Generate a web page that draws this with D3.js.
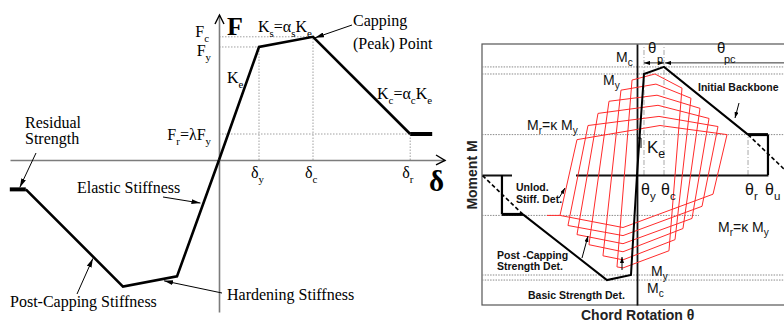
<!DOCTYPE html>
<html>
<head>
<meta charset="utf-8">
<script src="https://cdn.jsdelivr.net/npm/d3@7/dist/d3.min.js"></script>
<style>
  html, body { margin: 0; padding: 0; background: #fff; }
  svg { display: block; }
</style>
</head>
<body>
<svg id="chart" width="784" height="322"></svg>
<script>
// ---------- Left panel: force–deformation backbone ----------
const deltaExtent = [-5.225, 5.65];
const forceExtent = [-1.345, 1.283];

const posBackboneDelta = [0, 1, 2.35, 4.78];
const posBackboneForce = [0, 1, 1.09, 0.23];
const posResidualDelta = [4.78, 5.33];
const negBackboneDelta = [0, -1.05, -2.4, -4.83];
const negBackboneForce = [0, -1.03, -1.12, -0.26];
const negResidualDelta = [-4.83, -5.23];

const deltaMarkSubs = ["y", "c", "r"];

// ---------- Right panel: moment–rotation with cyclic deterioration ----------
const thetaExtent = [-22.14, 21];
const momentExtent = [-1.287, 1.297];

const posSkeletonTheta = [0, 1, 3.86, 15.86];
const posSkeletonMoment = [0, 1.0, 1.07, 0.4];
const posResidualTheta = [15.86, 18.71];
const posTailTheta = [15.86, 21.9];
const posTailMoment = [0.4, 0];
const negSkeletonTheta = [0, -0.86, -4.29, -16.29];
const negSkeletonMoment = [0, -0.99, -1.04, -0.39];
const negResidualTheta = [-16.29, -19.29];
const negTailTheta = [-16.29, -22.14];
const negTailMoment = [-0.39, 0];

const momentLevels = [1.07, 1.0, 0.4, -0.4, -0.99, -1.04];
const thetaMarks = [1, 3.86, 15.86, 18.71];
const thetaMarkSubs = ["y", "c", "r", "u"];

// cycle corners: upper-left, peak, upper-right, lower-right, trough, lower-left
const cycleTheta = [
  [-0.71, 2.57, 6.43, 4.57, -2.0, -2.86],
  [-2.29, 2.71, 7.71, 5.43, -2.0, -4.86],
  [-4.0, 2.86, 9.0, 6.57, -2.0, -6.86],
  [-5.57, 3.0, 10.29, 7.86, -2.0, -8.57],
  [-7.0, 3.14, 11.57, 9.29, -2.0, -9.86],
  [-8.57, 3.29, 12.86, 10.86, -2.0, -11.0]
];
const cycleMoment = [
  [0.94, 1.0, 0.86, -0.75, -0.92, -0.91],
  [0.84, 0.9, 0.76, -0.64, -0.84, -0.8],
  [0.73, 0.79, 0.66, -0.53, -0.76, -0.69],
  [0.61, 0.69, 0.56, -0.43, -0.68, -0.59],
  [0.49, 0.58, 0.48, -0.31, -0.6, -0.5],
  [0.35, 0.49, 0.4, -0.19, -0.52, -0.4]
];
const cycleResidualTheta = [-11.0, -12.86];
const cycleResidualMoment = -0.4;

// ---------- drawing ----------
const svg = d3.select("#chart");
const defs = svg.append("defs");
function arrowMarker(id, len, wid) {
  defs.append("marker").attr("id", id)
    .attr("viewBox", `0 0 ${len} ${wid}`)
    .attr("refX", len).attr("refY", wid / 2)
    .attr("markerWidth", len).attr("markerHeight", wid)
    .attr("markerUnits", "userSpaceOnUse")
    .attr("orient", "auto-start-reverse")
    .append("path").attr("d", `M0,0L${len},${wid / 2}L0,${wid}Z`).attr("fill", "#000");
}
arrowMarker("headL", 9, 5);
arrowMarker("headR", 6, 4);

function rich(g, x, y, parts, o) {
  const t = g.append("text").attr("x", x).attr("y", y)
    .attr("font-family", o.family).attr("font-size", o.size)
    .attr("font-weight", o.weight || "normal")
    .attr("text-anchor", o.anchor || "start")
    .attr("fill", o.fill || "#000");
  let down = 0;
  const subSize = o.size * (o.subScale || 0.68);
  const drop = o.size * (o.drop || 0.3);
  parts.forEach(p => {
    const sub = p[0] === "_";
    const s = t.append("tspan").text(sub ? p.slice(1) : p);
    if (sub) { s.attr("font-size", subSize).attr("dy", drop - down); down = drop; }
    else if (down) { s.attr("dy", -down); down = 0; }
  });
  return t;
}
function arrow(g, x1, y1, x2, y2, head, w) {
  g.append("line").attr("x1", x1).attr("y1", y1).attr("x2", x2).attr("y2", y2)
    .attr("stroke", "#000").attr("stroke-width", w || 1)
    .attr("marker-end", `url(#${head})`);
}

// ===== left =====
const serif = "'Liberation Serif','Times New Roman',Times,serif";
const xL = d3.scaleLinear().domain(deltaExtent).range([10, 445]);
const yL = d3.scaleLinear().domain(forceExtent).range([312, 15]);
const left = svg.append("g");
const lineL = d3.line().x(d => xL(d[0])).y(d => yL(d[1]));

// dotted guides to the yield, capping and residual points
const guidesL = left.append("g").attr("fill", "none").attr("stroke", "#a0a0a0")
  .attr("stroke-width", 1).attr("stroke-dasharray", "1.5,1.5");
for (let k = 1; k < posBackboneDelta.length; k++) {
  const d = posBackboneDelta[k], f = posBackboneForce[k];
  guidesL.append("path").attr("d", lineL([[0, f], [d, f]]));
  guidesL.append("path").attr("d", lineL([[d, 0], [d, f]]));
}

const axL = left.append("g").attr("transform", `translate(0,${yL(0)})`)
  .call(d3.axisBottom(xL).tickValues([]).tickSizeOuter(0));
const ayL = left.append("g").attr("transform", `translate(${xL(0)},0)`)
  .call(d3.axisLeft(yL).tickValues([]).tickSizeOuter(0));
[axL, ayL].forEach(a => a.select(".domain").attr("stroke", "#7c7c7c").attr("stroke-width", 1.6));

// axis arrowheads
const topY = yL(forceExtent[1]), endX = xL(deltaExtent[1]);
left.append("path").attr("d", `M${xL(0) - 4},${topY + 9}L${xL(0) + 0.5},${topY}L${xL(0) + 5},${topY + 9}`)
  .attr("fill", "none").attr("stroke", "#000").attr("stroke-width", 1.4);
left.append("path").attr("d", `M${endX - 9},${yL(0) - 5}L${endX},${yL(0) + 0.5}L${endX - 9},${yL(0) + 5}`)
  .attr("fill", "none").attr("stroke", "#000").attr("stroke-width", 1.4);

// backbone
left.append("path").datum(d3.zip(posBackboneDelta, posBackboneForce)).attr("d", lineL)
  .attr("fill", "none").attr("stroke", "#000").attr("stroke-width", 2.6);
left.append("path").datum(d3.zip(negBackboneDelta, negBackboneForce)).attr("d", lineL)
  .attr("fill", "none").attr("stroke", "#000").attr("stroke-width", 2.6);
const fResP = posBackboneForce[posBackboneForce.length - 1];
const fResN = negBackboneForce[negBackboneForce.length - 1];
left.append("path").datum(posResidualDelta.map(d => [d, fResP])).attr("d", lineL)
  .attr("fill", "none").attr("stroke", "#000").attr("stroke-width", 4);
left.append("path").datum(negResidualDelta.map(d => [d, fResN])).attr("d", lineL)
  .attr("fill", "none").attr("stroke", "#000").attr("stroke-width", 4);

// labels
const sL = { family: serif, size: 16 };
rich(left, xL(0) + 8, topY + 20, ["F"], { family: serif, size: 26, weight: "bold" });
rich(left, endX - 16, yL(0) + 31, ["δ"], { family: serif, size: 29, weight: "bold" });
rich(left, xL(0) - 10, yL(posBackboneForce[2]), ["F", "_c"], Object.assign({ anchor: "end" }, sL));
rich(left, xL(0) - 8, yL(posBackboneForce[1]) + 9, ["F", "_y"], Object.assign({ anchor: "end" }, sL));
rich(left, xL(0) - 8, yL(posBackboneForce[3]) + 6, ["F", "_r", "=λF", "_y"], Object.assign({ anchor: "end" }, sL));
for (let k = 1; k < posBackboneDelta.length; k++) {
  rich(left, xL(posBackboneDelta[k]) - 8, yL(0) + 18, ["δ", "_" + deltaMarkSubs[k - 1]], sL);
}
rich(left, xL(0) + 8, 83, ["K", "_e"], sL);
rich(left, xL(posBackboneDelta[1]) - 1, yL(posBackboneForce[1]) - 15, ["K", "_s", "=α", "_s", "K", "_e"], sL);
rich(left, 353, 26, ["Capping"], sL);
rich(left, 353, 49, ["(Peak) Point"], sL);
rich(left, 377, 99, ["K", "_c", "=α", "_c", "K", "_e"], sL);
rich(left, 25, 128, ["Residual"], sL);
rich(left, 25, 144, ["Strength"], sL);
rich(left, 77, 193, ["Elastic Stiffness"], sL);
rich(left, 10, 307, ["Post-Capping Stiffness"], sL);
rich(left, 227, 300, ["Hardening Stiffness"], sL);

// annotation arrows aimed at points on the backbone
function onSeg(xs, ys, i, t) {
  return [xs[i] + (xs[i + 1] - xs[i]) * t, ys[i] + (ys[i + 1] - ys[i]) * t];
}
const capP = [posBackboneDelta[2], posBackboneForce[2]];
arrow(left, 352, 25, xL(capP[0]) + 2, yL(capP[1]) + 1, "headL", 1);
arrow(left, 36, 153, xL(-4.98), yL(fResN) - 2, "headL", 1);
let p = onSeg(negBackboneDelta, negBackboneForce, 0, 0.37);
arrow(left, 163, 197, xL(p[0]) - 3, yL(p[1]), "headL", 1);
p = onSeg(negBackboneDelta, negBackboneForce, 2, 0.31);
arrow(left, 77, 294, xL(p[0]), yL(p[1]) + 2, "headL", 1);
p = onSeg(negBackboneDelta, negBackboneForce, 1, 0.24);
arrow(left, 222, 293, xL(p[0]), yL(p[1]) + 2, "headL", 1);

// ===== right =====
const sans = "'Liberation Sans',Arial,Helvetica,sans-serif";
const xR = d3.scaleLinear().domain(thetaExtent).range([482, 784]);
const yR = d3.scaleLinear().domain(momentExtent).range([305, 44]);
const right = svg.append("g");
const lineR = d3.line().x(d => xR(d[0])).y(d => yR(d[1]));

// frame
right.append("rect").attr("x", xR(thetaExtent[0])).attr("y", yR(momentExtent[1]))
  .attr("width", 400).attr("height", yR(momentExtent[0]) - yR(momentExtent[1]))
  .attr("fill", "none").attr("stroke", "#555").attr("stroke-width", 1.2);

// dotted strength levels
right.append("g").selectAll("path").data(momentLevels).join("path")
  .attr("d", m => lineR([[thetaExtent[0], m], [thetaExtent[1], m]]))
  .attr("fill", "none").attr("stroke", "#8a8a8a").attr("stroke-width", 1)
  .attr("stroke-dasharray", "1.5,1.2");

// dash-dot rotation guides
const ddR = right.append("g").attr("fill", "none").attr("stroke", "#a8a8a8")
  .attr("stroke-width", 1).attr("stroke-dasharray", "5,2,1,2");
ddR.append("path").attr("d", lineR([[thetaMarks[0], 0], [thetaMarks[0], momentExtent[1]]]));
ddR.append("path").attr("d", lineR([[thetaMarks[1], 0], [thetaMarks[1], momentExtent[1]]]));
ddR.append("path").attr("d", lineR([[thetaMarks[2], 0], [thetaMarks[2], posSkeletonMoment[3]]]));

// axes
const xAxisScale = xR.copy().domain([thetaExtent[0], thetaMarks[3]]).range([xR(thetaExtent[0]), xR(thetaMarks[3])]);
const axR = right.append("g").attr("transform", `translate(0,${yR(0)})`)
  .call(d3.axisBottom(xAxisScale).tickValues([]).tickSizeOuter(0));
const ayR = right.append("g").attr("transform", `translate(${xR(0)},0)`)
  .call(d3.axisLeft(yR).tickValues([]).tickSizeOuter(0));
axR.select(".domain").attr("stroke", "#111").attr("stroke-width", 2);
ayR.select(".domain").attr("stroke", "#111").attr("stroke-width", 1.8);

// label backgrounds
right.append("rect").attr("x", 512).attr("y", 171).attr("width", 64).attr("height", 36).attr("fill", "#fff");
right.append("rect").attr("x", 699).attr("y", 207).attr("width", 85).attr("height", 34).attr("fill", "#fff");

// hysteresis cycles
const cycles = right.append("g").attr("fill", "none").attr("stroke", "#ff2b2b").attr("stroke-width", 1);
cycleTheta.forEach((ths, i) => {
  cycles.append("path").datum(d3.zip(ths, cycleMoment[i]))
    .attr("d", d3.line().x(d => xR(d[0])).y(d => yR(d[1])).curve(d3.curveLinearClosed));
});
cycles.append("path").attr("d", lineR(cycleResidualTheta.map(t => [t, cycleResidualMoment])));

// backbone
const bb = right.append("g").attr("fill", "none").attr("stroke", "#000");
bb.append("path").datum(d3.zip(posSkeletonTheta, posSkeletonMoment)).attr("d", lineR).attr("stroke-width", 2);
bb.append("path").datum(d3.zip(negSkeletonTheta, negSkeletonMoment)).attr("d", lineR).attr("stroke-width", 2);
const mResP = posSkeletonMoment[3], mResN = negSkeletonMoment[3];
bb.append("path").attr("d", lineR(posResidualTheta.map(t => [t, mResP]))).attr("stroke-width", 3);
bb.append("path").attr("d", lineR([[posResidualTheta[1], mResP], [posResidualTheta[1], 0]])).attr("stroke-width", 2.2);
bb.append("path").attr("d", lineR(negResidualTheta.map(t => [t, mResN]))).attr("stroke-width", 3);
bb.append("path").attr("d", lineR([[negResidualTheta[1], mResN], [negResidualTheta[1], 0]])).attr("stroke-width", 2.2);
bb.append("path").datum(d3.zip(posTailTheta, posTailMoment)).attr("d", lineR)
  .attr("stroke-width", 1.6).attr("stroke-dasharray", "4,2.5");
bb.append("path").datum(d3.zip(negTailTheta, negTailMoment)).attr("d", lineR)
  .attr("stroke-width", 1.6).attr("stroke-dasharray", "4,2.5");

// θp / θpc dimension arrows
const dimM = 1.11;
right.append("line").attr("x1", xR(thetaMarks[0])).attr("x2", xR(thetaMarks[1]))
  .attr("y1", yR(dimM)).attr("y2", yR(dimM)).attr("stroke", "#333").attr("stroke-width", 1)
  .attr("marker-start", "url(#headR)").attr("marker-end", "url(#headR)");
right.append("line").attr("x1", xR(thetaMarks[1]) + 1).attr("x2", xR(posTailTheta[1]))
  .attr("y1", yR(dimM)).attr("y2", yR(dimM)).attr("stroke", "#333").attr("stroke-width", 1)
  .attr("marker-start", "url(#headR)");

// labels
const sR = { family: sans, size: 14, fill: "#111", subScale: 0.72, drop: 0.32 };
rich(right, 616, 62, ["M", "_c"], sR);
rich(right, 603, 85, ["M", "_y"], sR);
rich(right, 527, 130, ["M", "_r", "=κ M", "_y"], sR);
rich(right, 718, 232, ["M", "_r", "=κ M", "_y"], sR);
rich(right, 651, 276, ["M", "_y"], sR);
rich(right, 647, 293, ["M", "_c"], sR);
rich(right, 647, 153, ["K", "_e"], Object.assign({}, sR, { size: 17 }));
right.append("path").attr("d", "M638,138H641V148").attr("fill", "none").attr("stroke", "#000").attr("stroke-width", 1);
thetaMarks.forEach((t, i) => {
  rich(right, xR(t) - 3, 195, ["θ", "_" + thetaMarkSubs[i]], Object.assign({}, sR, { size: 16 }));
});
rich(right, 648, 53, ["θ"], Object.assign({}, sR, { size: 15 }));
rich(right, 657, 63, ["p"], Object.assign({}, sR, { size: 11 }));
rich(right, 717, 53, ["θ"], Object.assign({}, sR, { size: 15 }));
rich(right, 724, 63, ["pc"], Object.assign({}, sR, { size: 11 }));

const bR = { family: sans, size: 10.5, weight: "bold", fill: "#111" };
rich(right, 698, 91, ["Initial Backbone"], bR);
rich(right, 516, 191, ["Unlod."], bR);
rich(right, 516, 203, ["Stiff. Det."], bR);
rich(right, 497, 259, ["Post -Capping"], bR);
rich(right, 497, 270, ["Strength Det."], bR);
rich(right, 528, 299, ["Basic Strength Det."], bR);
arrow(right, 739, 103, 735, 118, "headR", 1);
arrow(right, 559, 198, 565, 188, "headR", 1);
arrow(right, 582, 258, 588, 236, "headR", 1);
arrow(right, 622, 270, 622, 257, "headR", 1);

right.append("text").attr("transform", `translate(477,${yR(0)}) rotate(-90)`)
  .attr("text-anchor", "middle").attr("font-family", sans).attr("font-size", 14)
  .attr("font-weight", "bold").attr("fill", "#222").text("Moment M");
right.append("text").attr("x", 581).attr("y", 320)
  .attr("font-family", sans).attr("font-size", 14)
  .attr("font-weight", "bold").attr("fill", "#222").text("Chord Rotation θ");
</script>
</body>
</html>
